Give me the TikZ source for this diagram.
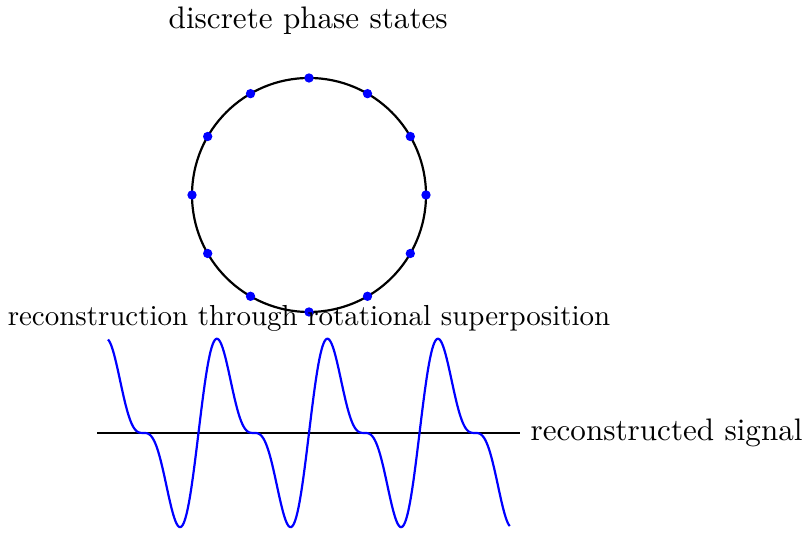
\documentclass[tikz,border=0pt]{standalone}
\begin{document}
\begin{tikzpicture}[
  ring/.style={thick, black},
  phasedot/.style={circle, fill=blue, inner sep=0pt, minimum size=0.12cm},
  wave/.style={thick, blue},
  axisline/.style={thick, black},
  bigtext/.style={scale=1.135},
  midtext/.style={scale=1.056}
]
\useasboundingbox (-3.962,-4.333) rectangle (6.449,2.5);
\node[bigtext] (title) at (-0.01,2.24) {discrete phase states};
\draw[ring] (0,0) circle (1.5);
\foreach \k in {0,...,11} {
  \node[phasedot] (p\k) at (\k*30:1.5) {};
}
\node[midtext] (recon) at (0,-1.58) {reconstruction through rotational superposition};
\coordinate (axL) at (-2.718,-3.051);
\coordinate (axR) at (2.705,-3.051);
\draw[axisline] (axL) -- (axR) node[bigtext, right, xshift=-0.3pt] (lab) {reconstructed signal};
\draw[wave] plot[domain=-2.577:2.577, samples=400, smooth]
  (\x, {-3.051 + 0.93*(sin(\x*4.434 r) + 0.5*sin(2*\x*4.434 r))});
\end{tikzpicture}
\end{document}
